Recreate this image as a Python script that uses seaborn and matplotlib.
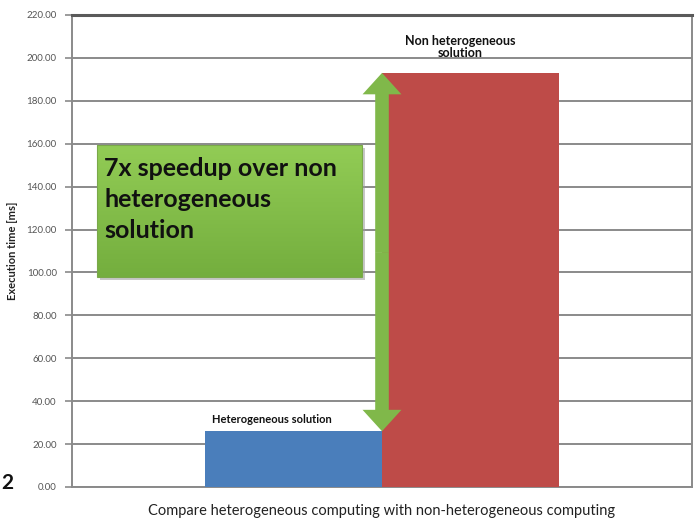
import matplotlib
matplotlib.use("Agg")
import matplotlib.pyplot as plt
import numpy as np
import pandas as pd
import seaborn as sns
from matplotlib.patches import Rectangle
from matplotlib.colors import LinearSegmentedColormap

# ---- data ----
category = "Compare heterogeneous computing with non-heterogeneous computing"
solutions = ["Heterogeneous solution", "Non heterogeneous\nsolution"]
times_ms = [26.0, 193.0]
y_ticks = [0, 20, 40, 60, 80, 100, 120, 140, 160, 180, 200, 220]
callout = "7x speedup over non\nheterogeneous\nsolution"
ylabel = "Execution time [ms]"

sns.set_theme(style="white")
plt.rcParams['font.family'] = ['Lato', 'DejaVu Sans']

df = pd.DataFrame({"cat": [category] * 2, "sol": solutions, "t": times_ms})

fig = plt.figure(figsize=(6.97, 5.22), dpi=100)
ax = fig.add_axes([72 / 697, 35 / 522, 620 / 697, 472 / 522])

sns.barplot(data=df, x="cat", y="t", hue="sol", ax=ax, width=0.572,
            palette=["#4a7ebb", "#be4b48"], saturation=1, dodge=True,
            legend=False, linewidth=0, zorder=3)

ax.set_xlim(-0.5, 0.5)
ax.set_ylim(0, 220)
ax.set_yticks(y_ticks)
ax.set_yticklabels([f"{v:.2f}" for v in y_ticks], fontsize=7, color="#555555")
ax.yaxis.grid(True, color="#8a8a8a", linewidth=1.4, zorder=0)
ax.set_axisbelow(True)
ax.set_xticks([])
ax.set_xlabel(category, fontsize=10.5, color="#222222", labelpad=12)
ax.set_ylabel(ylabel, fontsize=8, fontweight="bold", color="#222222", labelpad=6)
ax.tick_params(axis="y", length=5, width=1.2, color="#8a8a8a", pad=6, left=True)
for s in ["left", "right", "bottom"]:
    ax.spines[s].set_color("#8a8a8a")
    ax.spines[s].set_linewidth(1.4)
ax.spines["top"].set_color("#5a5a5a")
ax.spines["top"].set_linewidth(2.2)

# bar labels from bar geometry
bars = [p for p in ax.patches if isinstance(p, Rectangle) and p.get_height() > 0]
bars.sort(key=lambda p: p.get_x())
blue, red = bars[0], bars[1]
ax.text(blue.get_x() + blue.get_width() * 0.38, blue.get_height() + 3, solutions[0],
        ha="center", va="bottom", fontsize=8, fontweight="bold", color="#111111", zorder=6)
ax.text(red.get_x() + red.get_width() * 0.44, red.get_height() + 6.5, solutions[1],
        ha="center", va="bottom", fontsize=9, fontweight="bold", color="#111111",
        linespacing=1.0, zorder=6)

# double headed arrow at the bars' shared edge
xa = red.get_x()
ymid = (times_ms[0] + times_ms[1]) / 2
for yend in (times_ms[0], times_ms[1]):
    ax.annotate("", xy=(xa, yend), xytext=(xa, ymid),
                arrowprops=dict(arrowstyle="simple,head_length=1.1,head_width=2.0,tail_width=0.7",
                                mutation_scale=14, fc="#80b84a", ec="none",
                                lw=0, shrinkA=0, shrinkB=0),
                zorder=7)

# green callout box with gradient
bx0, bx1 = (97 - 72) / 620 - 0.5, (362 - 72) / 620 - 0.5
by0, by1 = (487 - 277) / 2.1455, (487 - 145) / 2.1455
shadow = Rectangle((bx0 + 0.005, by0 - 1.2), bx1 - bx0, by1 - by0, color="#9a9a9a",
                   alpha=0.55, zorder=4, lw=0)
ax.add_patch(shadow)
grad = np.linspace(0, 1, 100).reshape(-1, 1)
cmap = LinearSegmentedColormap.from_list("g", ["#74ae3e", "#92cc55"])
ax.imshow(grad, extent=[bx0, bx1, by0, by1], origin="lower", cmap=cmap,
          aspect="auto", zorder=5)
ax.set_xlim(-0.5, 0.5)
ax.set_ylim(0, 220)
ax.add_patch(Rectangle((bx0, by0), bx1 - bx0, by1 - by0, fill=False,
                       ec="#7aa84a", lw=0.8, zorder=5))
ax.text(bx0 + 0.012, by1 - 5.5, callout, ha="left", va="top", fontsize=18,
        fontweight="bold", color="#111111", linespacing=1.42, zorder=6)

fig.text(0.002, (522 - 483) / 522, "2", fontsize=15, fontweight="bold",
         color="#111111", ha="left", va="center")

fig.savefig("out.png", dpi=100)
